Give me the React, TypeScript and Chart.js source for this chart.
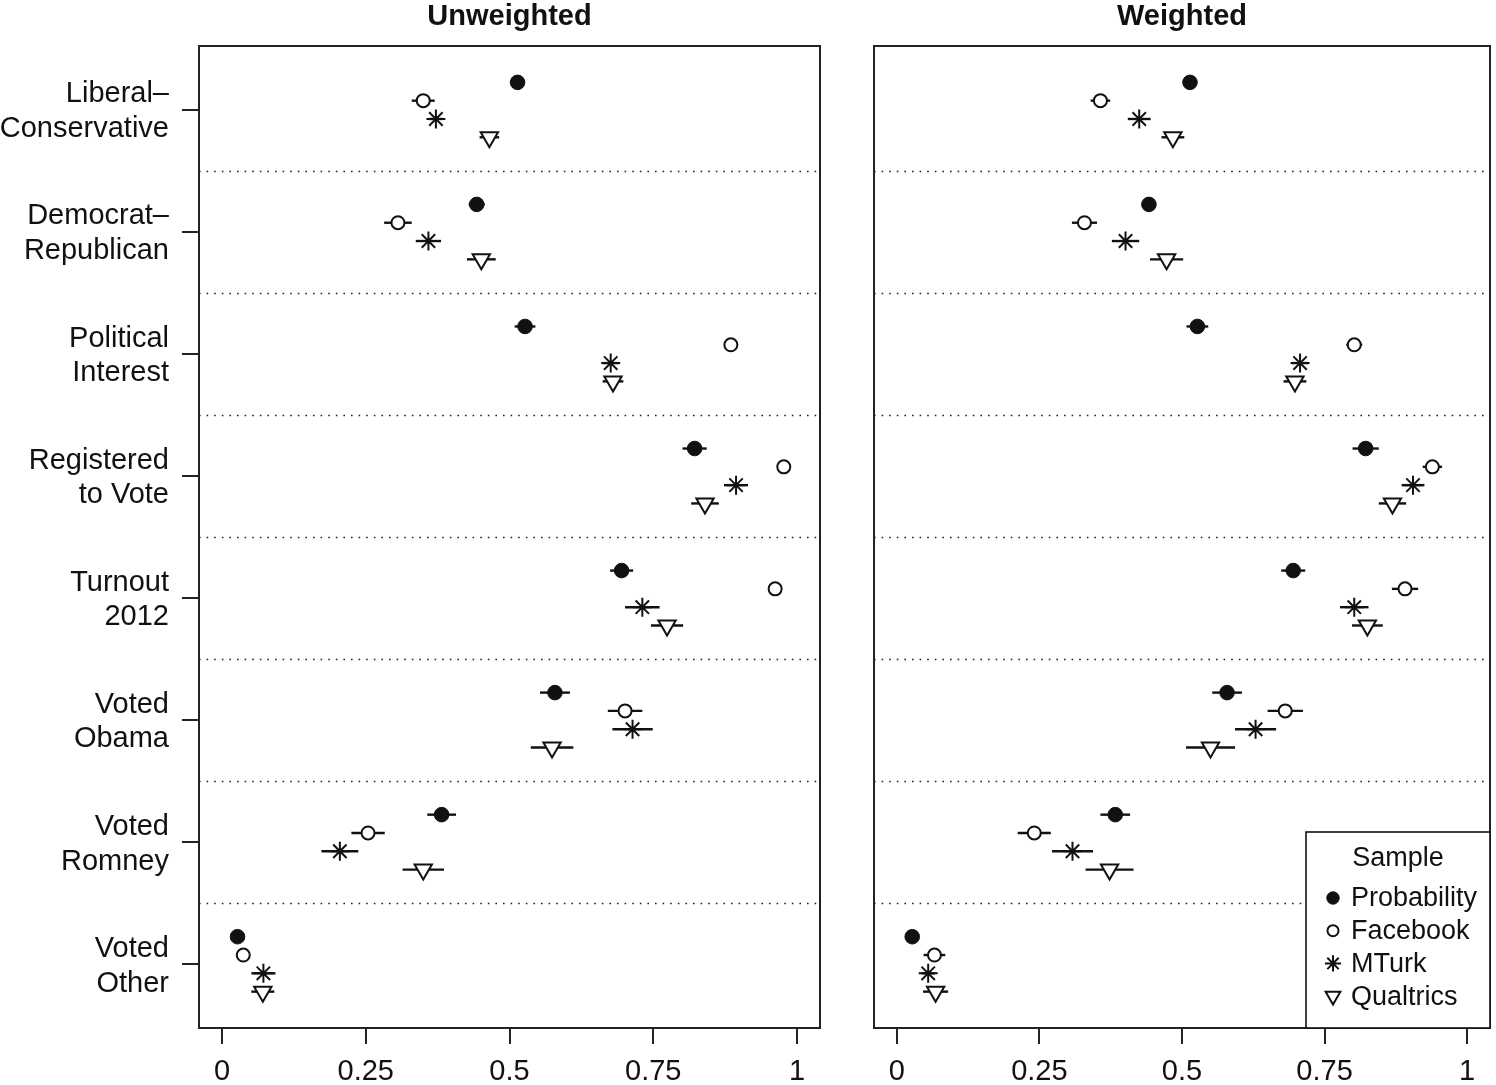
import React, { useEffect, useRef } from 'react';
import { Chart, registerables } from 'chart.js';
import { drawPoint } from 'chart.js/helpers';

Chart.register(...registerables);

// ---------- data ----------
const categories: string[][] = [
  ['Liberal–', 'Conservative'],
  ['Democrat–', 'Republican'],
  ['Political', 'Interest'],
  ['Registered', 'to Vote'],
  ['Turnout', '2012'],
  ['Voted', 'Obama'],
  ['Voted', 'Romney'],
  ['Voted', 'Other'],
];
const sampleNames = ['Probability', 'Facebook', 'MTurk', 'Qualtrics'];
const legendTitle = 'Sample';
const panelTitles = ['Unweighted', 'Weighted'];
const xTickValues = [0, 0.25, 0.5, 0.75, 1];
const xTickLabels = ['0', '0.25', '0.5', '0.75', '1'];

// Unweighted estimates and half-widths of intervals
const unwProbability = [0.514, 0.443, 0.527, 0.822, 0.695, 0.579, 0.382, 0.027];
const unwProbabilityErr = [0.008, 0.014, 0.018, 0.021, 0.020, 0.026, 0.025, 0.006];
const unwFacebook = [0.350, 0.306, 0.885, 0.977, 0.962, 0.701, 0.254, 0.037];
const unwFacebookErr = [0.020, 0.024, 0.006, 0.005, 0.006, 0.030, 0.029, 0.007];
const unwMTurk = [0.372, 0.359, 0.676, 0.894, 0.731, 0.714, 0.205, 0.072];
const unwMTurkErr = [0.012, 0.022, 0.014, 0.021, 0.030, 0.035, 0.032, 0.021];
const unwQualtrics = [0.465, 0.451, 0.680, 0.840, 0.774, 0.574, 0.350, 0.071];
const unwQualtricsErr = [0.017, 0.025, 0.018, 0.024, 0.028, 0.037, 0.036, 0.020];

// Weighted estimates and half-widths of intervals
const wProbability = [0.514, 0.442, 0.527, 0.822, 0.695, 0.579, 0.383, 0.027];
const wProbabilityErr = [0.008, 0.012, 0.019, 0.023, 0.021, 0.026, 0.026, 0.006];
const wFacebook = [0.357, 0.329, 0.802, 0.939, 0.891, 0.681, 0.241, 0.066];
const wFacebookErr = [0.017, 0.022, 0.014, 0.017, 0.023, 0.031, 0.029, 0.019];
const wMTurk = [0.425, 0.401, 0.707, 0.905, 0.802, 0.629, 0.308, 0.055];
const wMTurkErr = [0.020, 0.024, 0.015, 0.020, 0.025, 0.036, 0.036, 0.012];
const wQualtrics = [0.484, 0.473, 0.698, 0.869, 0.825, 0.550, 0.373, 0.068];
const wQualtricsErr = [0.020, 0.029, 0.020, 0.024, 0.027, 0.043, 0.042, 0.022];

// ---------- styling ----------
const FONT = "'Liberation Sans', Arial, Helvetica, sans-serif";
const INK = '#111';
const rowOffsets = [-0.225, -0.075, 0.075, 0.225];
const markers = [
  { pointStyle: 'circle', radius: 7.3, bg: INK, border: INK, bw: 1, rotation: 0 },
  { pointStyle: 'circle', radius: 6.5, bg: '#fff', border: INK, bw: 2, rotation: 0 },
  { pointStyle: 'star', radius: 9.5, bg: INK, border: INK, bw: 2, rotation: 0 },
  { pointStyle: 'triangle', radius: 10, bg: '#fff', border: INK, bw: 2, rotation: 180 },
];

function buildDatasets(est: number[][], err: number[][]) {
  return est.map((vals, s) => ({
    label: sampleNames[s],
    data: vals.map((v, i) => ({ x: v, y: i + 1 + rowOffsets[s], err: err[s][i] })),
    pointStyle: markers[s].pointStyle as any,
    pointRadius: markers[s].radius,
    pointBackgroundColor: markers[s].bg,
    pointBorderColor: markers[s].border,
    pointBorderWidth: markers[s].bw,
    pointRotation: markers[s].rotation,
    showLine: false,
  }));
}

function decorPlugin(title: string, showLegend: boolean) {
  return {
    id: 'decor',
    beforeDatasetsDraw(chart: any) {
      const { ctx, chartArea: a, scales } = chart;
      const ys = scales.y;
      const xs = scales.x;
      ctx.save();
      ctx.strokeStyle = '#222';
      ctx.lineWidth = 1.6;
      ctx.setLineDash([1.6, 6]);
      for (let i = 1; i < categories.length; i++) {
        const py = Math.round(ys.getPixelForValue(i + 0.5)) + 0.5;
        ctx.beginPath();
        ctx.moveTo(a.left, py);
        ctx.lineTo(a.right, py);
        ctx.stroke();
      }
      ctx.setLineDash([]);
      ctx.lineWidth = 2.4;
      ctx.strokeStyle = INK;
      chart.data.datasets.forEach((ds: any, di: number) => {
        const meta = chart.getDatasetMeta(di);
        ds.data.forEach((p: any, i: number) => {
          const el = meta.data[i];
          const x0 = xs.getPixelForValue(p.x - p.err);
          const x1 = xs.getPixelForValue(p.x + p.err);
          ctx.beginPath();
          ctx.moveTo(x0, el.y);
          ctx.lineTo(x1, el.y);
          ctx.stroke();
        });
      });
      ctx.restore();
    },
    afterDraw(chart: any) {
      const { ctx, chartArea: a } = chart;
      ctx.save();
      ctx.strokeStyle = '#222';
      ctx.lineWidth = 2;
      ctx.strokeRect(a.left, a.top, a.right - a.left, a.bottom - a.top);
      ctx.fillStyle = INK;
      ctx.font = `bold 29px ${FONT}`;
      ctx.textAlign = 'center';
      ctx.textBaseline = 'alphabetic';
      ctx.fillText(title, (a.left + a.right) / 2, 25);
      if (showLegend) {
        const w = 184, h = 196;
        const lx = a.right - w, ly = a.bottom - h;
        ctx.fillStyle = '#fff';
        ctx.fillRect(lx, ly, w, h);
        ctx.lineWidth = 1.6;
        ctx.strokeStyle = INK;
        ctx.strokeRect(lx, ly, w, h);
        ctx.fillStyle = INK;
        ctx.font = `27px ${FONT}`;
        ctx.textAlign = 'center';
        ctx.fillText(legendTitle, lx + w / 2, ly + 34);
        ctx.textAlign = 'left';
        sampleNames.forEach((name, s) => {
          const yy = ly + 66 + s * 32.7;
          const m = markers[s];
          ctx.fillStyle = m.bg;
          ctx.strokeStyle = m.border;
          ctx.lineWidth = m.bw;
          drawPoint(ctx, { pointStyle: m.pointStyle as any, rotation: m.rotation, radius: m.radius * 0.85, borderWidth: m.bw }, lx + 27, yy);
          ctx.fillStyle = INK;
          ctx.textBaseline = 'middle';
          ctx.fillText(name, lx + 45, yy + 1);
        });
      }
      ctx.restore();
    },
  };
}

function makeConfig(title: string, est: number[][], err: number[][], isLeft: boolean, padLeft: number, padRight: number): any {
  return {
    type: 'scatter',
    data: { datasets: buildDatasets(est, err) },
    options: {
      animation: false,
      responsive: false,
      devicePixelRatio: 1,
      events: [],
      layout: { padding: { top: 46, left: padLeft, right: padRight, bottom: 0 } },
      plugins: { legend: { display: false }, tooltip: { enabled: false }, title: { display: false } },
      scales: {
        x: {
          type: 'linear',
          min: -0.04,
          max: 1.04,
          afterBuildTicks: (scale: any) => {
            scale.ticks = xTickValues.map((v) => ({ value: v }));
          },
          afterFit: (scale: any) => {
            scale.height = 57;
            scale.paddingLeft = 0;
            scale.paddingRight = 0;
          },
          ticks: {
            autoSkip: false,
            maxRotation: 0,
            padding: 11,
            color: INK,
            font: { family: FONT, size: 29 },
            callback: (_v: any, i: number) => xTickLabels[i],
          },
          grid: { display: true, drawOnChartArea: false, drawTicks: true, tickLength: 16, color: '#222', lineWidth: 2 },
          border: { display: false },
        },
        y: {
          type: 'linear',
          display: isLeft,
          reverse: true,
          min: 0.477,
          max: 8.523,
          afterBuildTicks: (scale: any) => {
            scale.ticks = categories.map((_c, i) => ({ value: i + 1 }));
          },
          afterFit: (scale: any) => {
            scale.width = isLeft ? 199 : 0;
            scale.paddingTop = 0;
            scale.paddingBottom = 0;
          },
          ticks: {
            autoSkip: false,
            padding: 13,
            labelOffset: 2,
            color: INK,
            font: { family: FONT, size: 29, lineHeight: 1.2 },
            callback: (v: any) => categories[Math.round(v) - 1],
          },
          grid: { display: true, drawOnChartArea: false, drawTicks: true, tickLength: 17, color: '#222', lineWidth: 2 },
          border: { display: false },
        },
      },
    },
    plugins: [decorPlugin(title, !isLeft)],
  };
}

export default function App() {
  const leftRef = useRef<HTMLCanvasElement | null>(null);
  const rightRef = useRef<HTMLCanvasElement | null>(null);

  useEffect(() => {
    const unwEst = [unwProbability, unwFacebook, unwMTurk, unwQualtrics];
    const unwErr = [unwProbabilityErr, unwFacebookErr, unwMTurkErr, unwQualtricsErr];
    const wEst = [wProbability, wFacebook, wMTurk, wQualtrics];
    const wErr = [wProbabilityErr, wFacebookErr, wMTurkErr, wQualtricsErr];
    const c1 = new Chart(leftRef.current as HTMLCanvasElement, makeConfig(panelTitles[0], unwEst, unwErr, true, 0, 20));
    const c2 = new Chart(rightRef.current as HTMLCanvasElement, makeConfig(panelTitles[1], wEst, wErr, false, 34, 30));
    return () => {
      c1.destroy();
      c2.destroy();
    };
  }, []);

  return (
    <div style={{ position: 'absolute', left: 0, top: 0, width: 1496, height: 1085, background: '#fff', overflow: 'hidden' }}>
      <canvas ref={leftRef} width={840} height={1085} style={{ position: 'absolute', left: 0, top: 0, width: 840, height: 1085 }} />
      <canvas ref={rightRef} width={680} height={1085} style={{ position: 'absolute', left: 840, top: 0, width: 680, height: 1085 }} />
    </div>
  );
}
